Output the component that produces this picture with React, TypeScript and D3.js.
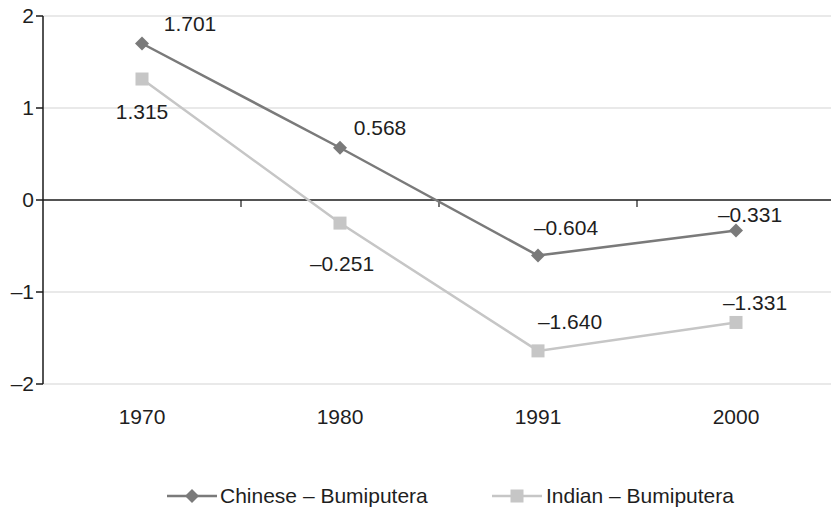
import React from "react";
import * as d3 from "d3";

const years = ["1970", "1980", "1991", "2000"];
const chineseValues = [1.701, 0.568, -0.604, -0.331];
const indianValues = [1.315, -0.251, -1.64, -1.331];
const yTicks = [2, 1, 0, -1, -2];
const seriesNames = ["Chinese – Bumiputera", "Indian – Bumiputera"];

// label offsets (dx, dy) from each point, in pixels
const chineseLabelOffsets: [number, number][] = [[48, -20], [40, -20], [28, -28], [14, -16]];
const indianLabelOffsets: [number, number][] = [[0, 33], [2, 41], [32, -29], [19, -20]];

const W = 831;
const H = 507;
const left = 43;
const right = 835;
const top = 16;
const bottom = 384;

const fmt = (v: number) => {
  const s = d3.format(".3f")(Math.abs(v));
  return v < 0 ? "–" + s : s;
};
const tickFmt = (v: number) => (v < 0 ? "–" + Math.abs(v) : String(v));

const DARK = "#7a7a7a";
const LIGHT = "#c6c6c6";
const TEXT = "#1e1e1e";
const FONT = "'Liberation Sans', Arial, Helvetica, sans-serif";
const FS = 21;

function Diamond({ x, y, r, fill }: { x: number; y: number; r: number; fill: string }) {
  return <path d={`M${x},${y - r}L${x + r},${y}L${x},${y + r}L${x - r},${y}Z`} fill={fill} />;
}

function Square({ x, y, s, fill }: { x: number; y: number; s: number; fill: string }) {
  return <rect x={x - s / 2} y={y - s / 2} width={s} height={s} fill={fill} />;
}

export default function App() {
  const x = d3.scaleBand<string>().domain(years).range([left, right]);
  const y = d3.scaleLinear().domain([-2, 2]).range([bottom, top]);
  const cx = (d: string) => (x(d) ?? 0) + x.bandwidth() / 2;

  const line = d3
    .line<number>()
    .x((_, i) => cx(years[i]))
    .y((v) => y(v));

  const boundaries = years.slice(1).map((d) => x(d) ?? 0);

  return (
    <svg
      width={W}
      height={H}
      style={{ position: "absolute", left: 0, top: 0, background: "#fff" }}
      fontFamily={FONT}
    >
      {/* gridlines */}
      {yTicks
        .filter((t) => t !== 0)
        .map((t) => (
          <line key={"g" + t} x1={left} x2={W} y1={y(t)} y2={y(t)} stroke="#d4d4d4" strokeWidth={1.2} />
        ))}
      {/* y axis */}
      <line x1={left} x2={left} y1={top} y2={bottom} stroke="#1a1a1a" strokeWidth={1.5} />
      {yTicks.map((t) => (
        <g key={"t" + t}>
          <line x1={left - 7} x2={left} y1={y(t)} y2={y(t)} stroke="#1a1a1a" strokeWidth={1.5} />
          <text x={left - 9} y={y(t)} dy="0.35em" textAnchor="end" fontSize={FS} fill={TEXT}>
            {tickFmt(t)}
          </text>
        </g>
      ))}
      {/* zero axis with category ticks */}
      <line x1={left} x2={W} y1={y(0)} y2={y(0)} stroke="#1a1a1a" strokeWidth={1.5} />
      {boundaries.map((b, i) => (
        <line key={"b" + i} x1={b} x2={b} y1={y(0)} y2={y(0) + 7} stroke="#1a1a1a" strokeWidth={1.2} />
      ))}
      {years.map((yr) => (
        <text key={yr} x={cx(yr)} y={417} dy="0.35em" textAnchor="middle" fontSize={FS} fill={TEXT}>
          {yr}
        </text>
      ))}

      {/* series */}
      <path d={line(indianValues) ?? ""} fill="none" stroke={LIGHT} strokeWidth={2.5} />
      <path d={line(chineseValues) ?? ""} fill="none" stroke={DARK} strokeWidth={2.5} />
      {indianValues.map((v, i) => (
        <Square key={"is" + i} x={cx(years[i])} y={y(v)} s={13} fill={LIGHT} />
      ))}
      {chineseValues.map((v, i) => (
        <Diamond key={"cd" + i} x={cx(years[i])} y={y(v)} r={7} fill={DARK} />
      ))}

      {/* value labels */}
      {chineseValues.map((v, i) => (
        <text
          key={"cl" + i}
          x={cx(years[i]) + chineseLabelOffsets[i][0]}
          y={y(v) + chineseLabelOffsets[i][1]}
          dy="0.35em"
          textAnchor="middle"
          fontSize={FS}
          fill={TEXT}
        >
          {fmt(v)}
        </text>
      ))}
      {indianValues.map((v, i) => (
        <text
          key={"il" + i}
          x={cx(years[i]) + indianLabelOffsets[i][0]}
          y={y(v) + indianLabelOffsets[i][1]}
          dy="0.35em"
          textAnchor="middle"
          fontSize={FS}
          fill={TEXT}
        >
          {fmt(v)}
        </text>
      ))}

      {/* legend */}
      <g>
        <line x1={167} x2={217} y1={496} y2={496} stroke={DARK} strokeWidth={2.5} />
        <Diamond x={192} y={496} r={7} fill={DARK} />
        <text x={220} y={496} dy="0.35em" fontSize={FS} fill={TEXT}>
          {seriesNames[0]}
        </text>
        <line x1={492} x2={542} y1={496} y2={496} stroke={LIGHT} strokeWidth={2.5} />
        <Square x={517} y={496} s={13} fill={LIGHT} />
        <text x={546} y={496} dy="0.35em" fontSize={FS} fill={TEXT}>
          {seriesNames[1]}
        </text>
      </g>
    </svg>
  );
}
